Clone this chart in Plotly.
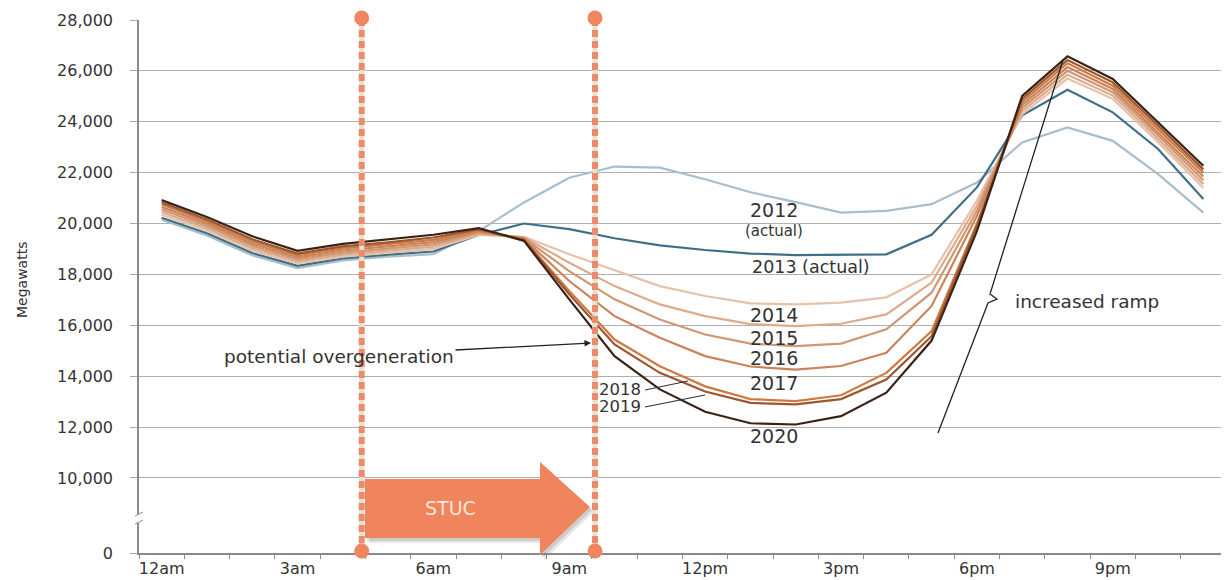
import plotly.graph_objects as go

# ---------------- data ----------------
hours = list(range(24))
tick_positions = [0, 3, 6, 9, 12, 15, 18, 21]
tick_labels = ["12am", "3am", "6am", "9am", "12pm", "3pm", "6pm", "9pm"]

y_tick_values = [7050, 10000, 12000, 14000, 16000, 18000, 20000, 22000, 24000, 26000, 28000]
y_tick_text = ["0", "10,000", "12,000", "14,000", "16,000", "18,000", "20,000",
               "22,000", "24,000", "26,000", "28,000"]

load_2012 = [20150, 19530, 18750, 18250, 18550, 18700, 18800, 19700, 20830, 21800, 22240, 22200,
             21740, 21230, 20840, 20430, 20500, 20760, 21610, 23190, 23780, 23250, 21940, 20430]
load_2013 = [20230, 19620, 18840, 18340, 18630, 18780, 18900, 19550, 20000, 19780, 19420, 19140,
             18960, 18820, 18760, 18780, 18790, 19560, 21420, 24250, 25260, 24370, 22930, 20960]
load_2014 = [20350, 19720, 18940, 18430, 18700, 18860, 19000, 19550, 19480, 18790, 18150, 17540,
             17150, 16860, 16820, 16890, 17100, 18000, 20900, 24300, 25700, 24900, 23200, 21400]
load_2015 = [20450, 19810, 19030, 18510, 18780, 18940, 19090, 19600, 19460, 18460, 17540, 16820,
             16360, 16050, 15970, 16060, 16430, 17680, 20700, 24420, 25850, 25030, 23330, 21550]
load_2016 = [20550, 19900, 19120, 18590, 18860, 19020, 19180, 19650, 19430, 18130, 17020, 16230,
             15640, 15280, 15180, 15280, 15840, 17280, 20500, 24540, 26000, 25160, 23460, 21700]
load_2017 = [20650, 19990, 19210, 18670, 18940, 19100, 19270, 19700, 19400, 17740, 16360, 15510,
             14790, 14380, 14260, 14400, 14920, 16760, 20300, 24660, 26150, 25290, 23590, 21850]
load_2018 = [20750, 20080, 19300, 18750, 19020, 19180, 19360, 19750, 19370, 17350, 15440, 14390,
             13600, 13100, 13020, 13250, 14130, 15770, 20000, 24780, 26300, 25420, 23720, 22000]
load_2019 = [20830, 20160, 19380, 18820, 19100, 19260, 19450, 19780, 19350, 17220, 15250, 14130,
             13400, 12950, 12890, 13100, 13870, 15570, 19900, 24900, 26430, 25550, 23850, 22130]
load_2020 = [20920, 20260, 19500, 18930, 19200, 19370, 19560, 19820, 19320, 17020, 14790, 13480,
             12600, 12150, 12100, 12430, 13350, 15400, 19700, 25020, 26570, 25680, 23980, 22270]

series_names = ["2012", "2013", "2014", "2015", "2016", "2017", "2018", "2019", "2020"]
series_values = [load_2012, load_2013, load_2014, load_2015, load_2016,
                 load_2017, load_2018, load_2019, load_2020]
series_colors = ["#a9bdcc", "#3e6f87", "#e6c2aa", "#dcab8c", "#d19673",
                 "#c9845a", "#cf7a42", "#9c5630", "#3a2316"]

# ---------------- layout geometry ----------------
# the page body has an 8px default margin, so the figure is drawn 8px in from the corner
OFF = 8
W, H = 1229 - OFF, 580 - OFF
ML, MT = 139 - OFF, 20 - OFF
PW, PH = 1087, 533
MR, MB = W - ML - PW, H - MT - PH
X_RANGE = [-0.5, 23.5]
Y_RANGE = [7050, 28000]


def px2x(px):
    return X_RANGE[0] + (px - OFF - ML) / PW * (X_RANGE[1] - X_RANGE[0])


def py2y(py):
    return Y_RANGE[1] - (py - OFF - MT) / PH * (Y_RANGE[1] - Y_RANGE[0])


def px2paper(px):
    return (px - OFF - ML) / PW


def py2paper(py):
    return 1 - (py - OFF - MT) / PH


FONT = "DejaVu Sans"
TXT = "#333333"
CORAL = "#f0845c"

fig = go.Figure()
for name, vals, col in zip(series_names, series_values, series_colors):
    fig.add_trace(go.Scatter(x=hours, y=vals, mode="lines", name=name,
                             line=dict(color=col, width=2.2), hoverinfo="skip"))

shapes = []


def path_from_px(points, close=True):
    s = ""
    for i, (px, py) in enumerate(points):
        s += ("M" if i == 0 else "L") + f"{px2x(px):.4f},{py2y(py):.2f} "
    return s + ("Z" if close else "")


def paper_path_from_px(points, close=True):
    s = ""
    for i, (px, py) in enumerate(points):
        s += ("M" if i == 0 else "L") + f"{px2paper(px):.5f},{py2paper(py):.5f} "
    return s + ("Z" if close else "")


arrow_pts = [(365, 479), (540, 479), (540, 462), (590, 507), (540, 555), (540, 538), (365, 538)]
# soft shadow
shapes.append(dict(type="path", xref="paper", yref="paper", layer="above",
                   path=paper_path_from_px([(px + 4, py + 5) for px, py in arrow_pts]),
                   fillcolor="rgba(120,120,120,0.18)", line=dict(width=0)))
shapes.append(dict(type="path", xref="paper", yref="paper", layer="above",
                   path=paper_path_from_px([(px + 2, py + 3) for px, py in arrow_pts]),
                   fillcolor="rgba(110,110,110,0.22)", line=dict(width=0)))
shapes.append(dict(type="path", xref="paper", yref="paper", layer="above",
                   path=paper_path_from_px(arrow_pts), fillcolor=CORAL, line=dict(width=0)))

# vertical dotted markers
for vx_px in [361.7, 595]:
    vx = px2paper(vx_px)
    shapes.append(dict(type="line", xref="paper", yref="paper", x0=vx, x1=vx,
                       y0=py2paper(19), y1=py2paper(551), layer="above",
                       line=dict(color="#dfe4cf", width=5)))
    shapes.append(dict(type="line", xref="paper", yref="paper", x0=vx, x1=vx,
                       y0=py2paper(19), y1=py2paper(551), layer="above",
                       line=dict(color="#ee8a6c", width=6, dash="7px,4px")))
    for vy_px in [18, 551]:
        shapes.append(dict(type="circle", xref="paper", yref="paper",
                           xsizemode="pixel", ysizemode="pixel",
                           xanchor=vx, yanchor=py2paper(vy_px),
                           x0=-7.5, x1=7.5, y0=-7.5, y1=7.5,
                           fillcolor="#f08660", line=dict(width=0), layer="above"))

# increased ramp brace
brace = [(938, 433), (988, 303), (997, 299), (990, 294), (1063, 60)]
shapes.append(dict(type="path", xref="x", yref="y", path=path_from_px(brace, close=False),
                   line=dict(color="#222222", width=1.3), layer="above"))

# pointer lines for 2018 / 2019
for (x0, y0, x1, y1) in [(645, 390, 688, 381), (645, 407, 705, 395)]:
    shapes.append(dict(type="line", xref="x", yref="y", x0=px2x(x0), y0=py2y(y0),
                       x1=px2x(x1), y1=py2y(y1), line=dict(color="#333333", width=1.1),
                       layer="above"))

# axis break mark
shapes.append(dict(type="rect", xref="paper", yref="paper",
                   x0=px2paper(134), x1=px2paper(144),
                   y0=py2paper(523), y1=py2paper(514),
                   fillcolor="white", line=dict(width=0), layer="above"))
for yy in [514, 522]:
    shapes.append(dict(type="line", xref="paper", yref="paper",
                       x0=px2paper(135), x1=px2paper(143),
                       y0=py2paper(yy + 2), y1=py2paper(yy - 2),
                       line=dict(color="#888888", width=1), layer="above"))

annotations = []


def label(text, px, py, size=18, color=TXT, xanchor="center"):
    annotations.append(dict(text=text, x=px2x(px), y=py2y(py), xref="x", yref="y",
                            showarrow=False, xanchor=xanchor, yanchor="middle",
                            font=dict(family=FONT, size=size, color=color)))


label("2012", 774, 210, size=19)
label("(actual)", 774, 231, size=15)
label("2013 (actual)", 811, 267, size=17.5)
label("2014", 774, 315, size=19)
label("2015", 774, 338, size=19)
label("2016", 774, 358, size=19)
label("2017", 774, 383, size=19)
label("2018", 620, 389, size=16.5)
label("2019", 620, 406, size=16.5)
label("2020", 774, 436, size=19)
label("increased ramp", 1087, 301, size=18.5)
label("STUC", 450, 508, size=19, color="#fde6da")

annotations.append(dict(text="potential overgeneration", x=px2x(591), y=py2y(343),
                        ax=px2x(339), ay=py2y(356), xref="x", yref="y", axref="x", ayref="y",
                        showarrow=True, arrowhead=2, arrowsize=1, arrowwidth=1.3,
                        arrowcolor="#222222",
                        font=dict(family=FONT, size=18.5, color=TXT)))

annotations.append(dict(text="Megawatts", x=px2paper(22), y=py2paper(280),
                        xref="paper", yref="paper", showarrow=False, textangle=-90,
                        xanchor="center", yanchor="middle",
                        font=dict(family=FONT, size=14, color=TXT)))

fig.update_layout(
    width=W, height=H,
    margin=dict(l=ML, r=MR, t=MT, b=MB, autoexpand=False),
    paper_bgcolor="white", plot_bgcolor="white",
    showlegend=False,
    shapes=shapes,
    annotations=annotations,
    xaxis=dict(range=X_RANGE, tickvals=tick_positions, ticktext=tick_labels,
               ticks="", showgrid=False, zeroline=False,
               showline=True, linecolor="#8a8a8a", linewidth=1.5,
               tickfont=dict(family=FONT, size=16, color=TXT),
               minor=dict(tick0=-0.5, dtick=1, ticks="outside", ticklen=4,
                          tickcolor="#8a8a8a", showgrid=False)),
    yaxis=dict(range=Y_RANGE, tickvals=y_tick_values, ticktext=y_tick_text,
               ticks="outside", ticklen=7, tickcolor="#a8a8a8",
               showgrid=True, gridcolor="#b0b0b0", gridwidth=1.3, zeroline=False,
               showline=True, linecolor="#8a8a8a", linewidth=1.5,
               ticklabelstandoff=14,
               tickfont=dict(family=FONT, size=16, color=TXT)),
)

fig.write_html("out.html")
